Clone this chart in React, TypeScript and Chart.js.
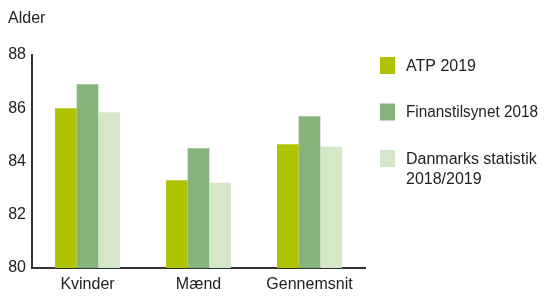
import React, { useEffect, useRef } from 'react';
import { Chart, registerables } from 'chart.js';

Chart.register(...registerables);

const categories = ['Kvinder', 'Mænd', 'Gennemsnit'];
const atp2019 = [86.0, 83.3, 84.65];
const finanstilsynet2018 = [86.9, 84.5, 85.7];
const danmarksStatistik = [85.85, 83.2, 84.55];
const seriesLabels = [['ATP 2019'], ['Finanstilsynet 2018'], ['Danmarks statistik', '2018/2019']];
const seriesColors = ['#afc300', '#84b47c', '#d4e7c8'];
const yTicks = [80, 82, 84, 86, 88];
const axisTitle = 'Alder';

const FONT = '"Liberation Sans", Arial, sans-serif';
const TEXT = '#222222';

const sideLegend = {
  id: 'sideLegend',
  afterDraw(chart: any) {
    const { ctx, chartArea } = chart;
    ctx.save();
    ctx.font = `16px ${FONT}`;
    ctx.textBaseline = 'middle';
    ctx.textAlign = 'left';
    const x0 = chartArea.right + 15;
    const visibleRight = 530;
    chart.data.datasets.forEach((ds: any, i: number) => {
      const cy = chartArea.top + 10.5 + i * 46.5;
      ctx.fillStyle = ds.backgroundColor;
      ctx.fillRect(x0, cy - 8.5, 15, 17);
      ctx.fillStyle = TEXT;
      const lines: string[] = seriesLabels[i];
      const tx = x0 + 26;
      lines.forEach((l, j) => ctx.fillText(l, tx, cy + 1 + j * 20, visibleRight - tx));
    });
    ctx.restore();
  },
};

export default function App() {
  const ref = useRef<HTMLCanvasElement>(null);
  useEffect(() => {
    if (!ref.current) return;
    const values = [atp2019, finanstilsynet2018, danmarksStatistik];
    const chart = new Chart(ref.current, {
      type: 'bar',
      data: {
        labels: categories,
        datasets: values.map((v, i) => ({
          label: seriesLabels[i].join(' '),
          data: v,
          backgroundColor: seriesColors[i],
          borderWidth: 0,
          categoryPercentage: 0.585,
          barPercentage: 1,
        })),
      },
      options: {
        animation: false,
        responsive: false,
        maintainAspectRatio: false,
        devicePixelRatio: 1,
        layout: { padding: { left: 0, right: 174, top: 0, bottom: 1.4 } },
        plugins: {
          legend: { display: false },
          tooltip: { enabled: false },
          title: {
            display: true,
            text: axisTitle,
            align: 'start',
            color: TEXT,
            font: { family: FONT, size: 16, weight: 'normal' },
            padding: { top: 1, bottom: 26.8 },
          },
        },
        scales: {
          x: {
            grid: { display: false, drawTicks: false },
            border: { display: true, color: '#333333', width: 2 },
            ticks: { color: TEXT, font: { family: FONT, size: 16 }, padding: 7.4, maxRotation: 0 },
            afterFit: (scale: any) => {
              scale.height = 26.6;
            },
          },
          y: {
            min: 80,
            max: 88,
            afterBuildTicks: (scale: any) => {
              scale.ticks = yTicks.map((v) => ({ value: v }));
            },
            grid: { display: false, drawTicks: false },
            border: { display: true, color: '#333333', width: 2 },
            ticks: { color: TEXT, font: { family: FONT, size: 16 }, padding: 6 },
            afterFit: (scale: any) => {
              scale.width = 24;
            },
          },
        },
      },
      plugins: [sideLegend],
    });
    return () => chart.destroy();
  }, []);
  return (
    <div style={{ width: 531, height: 288, position: 'relative' }}>
      <canvas ref={ref} width={531} height={288} style={{ display: 'block', width: 531, height: 288 }} />
    </div>
  );
}
